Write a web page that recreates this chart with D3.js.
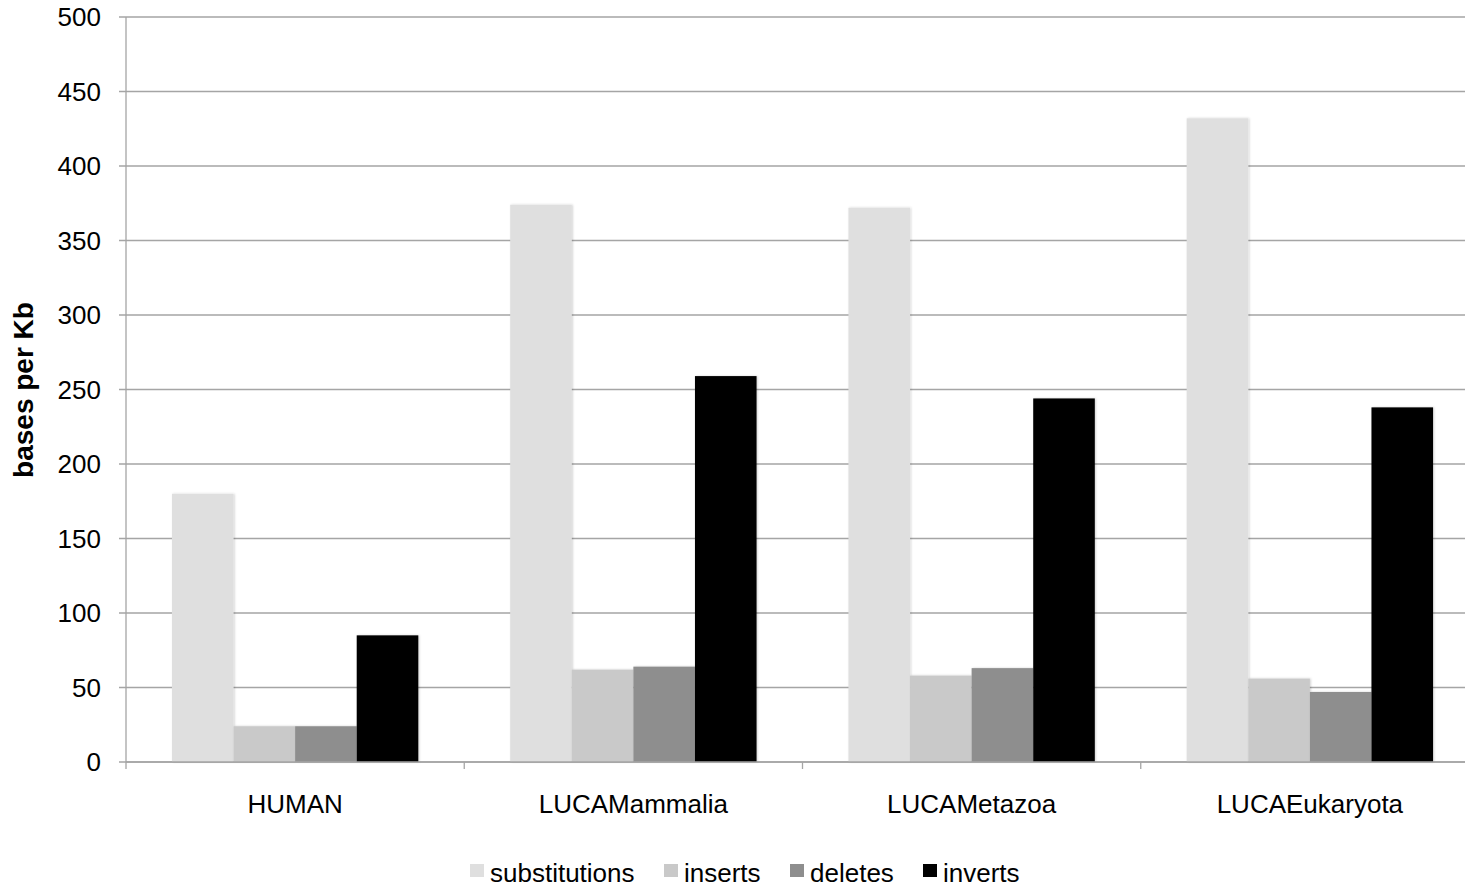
<!DOCTYPE html>
<html><head><meta charset="utf-8">
<script src="https://cdn.jsdelivr.net/npm/d3@7"></script>
<style>body{margin:0;background:#fff;}svg{display:block;font-family:"Liberation Sans",Arial,sans-serif;}</style>
</head><body><svg id="c" width="1465" height="887"></svg>
<script>
const categories = ["HUMAN","LUCAMammalia","LUCAMetazoa","LUCAEukaryota"];
const seriesNames = ["substitutions","inserts","deletes","inverts"];
const substitutions = [180,374,372,432];
const inserts = [24,62,58,56];
const deletes = [24,64,63,47];
const inverts = [85,259,244,238];
const yTicks = [0,50,100,150,200,250,300,350,400,450,500];
const colors = ["#dfdfdf","#c9c9c9","#8e8e8e","#000000"];
const seriesValues = [substitutions,inserts,deletes,inverts];

(function(){
const svg = d3.select("#c");
const pL = 126, pR = 1479, pT = 17, pB = 762;
const x = d3.scaleBand().domain(categories).range([pL,pR]).paddingInner(0).paddingOuter(0);
const xs = d3.scaleBand().domain(seriesNames).range([0,x.bandwidth()]).paddingInner(0).paddingOuter(0.746);
const y = d3.scaleLinear().domain([0,500]).range([pB,pT]);

const defs = svg.append("defs");
const f = defs.append("filter").attr("id","sh").attr("x","-10%").attr("y","-10%").attr("width","130%").attr("height","120%");
f.append("feDropShadow").attr("dx",1).attr("dy",0).attr("stdDeviation",1.2).attr("flood-color","#000").attr("flood-opacity",0.18);

svg.append("g").selectAll("line").data(yTicks).join("line")
  .attr("x1",pL-7).attr("x2",1465).attr("y1",d=>y(d)).attr("y2",d=>y(d))
  .attr("stroke","#a5a5a5").attr("stroke-width",1.3);

svg.append("g").selectAll("text").data(yTicks).join("text")
  .attr("x",101).attr("y",d=>y(d)).attr("dy","0.36em").attr("text-anchor","end")
  .attr("font-size",26).attr("fill","#000").text(d=>d);

const g = svg.append("g");
seriesNames.forEach((s,si)=>{
  g.append("g").selectAll("rect").data(categories).join("rect")
    .attr("x",(c)=>x(c)+xs(s)).attr("width",xs.bandwidth())
    .attr("y",(c,i)=>y(seriesValues[si][i])).attr("height",(c,i)=>y(0)-y(seriesValues[si][i]))
    .attr("fill",colors[si]).attr("filter","url(#sh)");
});

svg.append("line").attr("x1",pL).attr("x2",pL).attr("y1",pT).attr("y2",pB+7).attr("stroke","#a5a5a5").attr("stroke-width",1.3);
svg.append("line").attr("x1",pL).attr("x2",1465).attr("y1",pB).attr("y2",pB).attr("stroke","#a5a5a5").attr("stroke-width",1.3);
svg.append("g").selectAll("line").data(categories.slice(1)).join("line")
  .attr("x1",d=>x(d)).attr("x2",d=>x(d)).attr("y1",pB).attr("y2",pB+7)
  .attr("stroke","#a5a5a5").attr("stroke-width",1.3);

svg.append("g").selectAll("text").data(categories).join("text")
  .attr("x",d=>x(d)+x.bandwidth()/2).attr("y",813).attr("text-anchor","middle")
  .attr("font-size",26).attr("fill","#000").text(d=>d);

svg.append("text").attr("transform","translate(33,390) rotate(-90)").attr("text-anchor","middle")
  .attr("font-size",28).attr("font-weight","bold").text("bases per Kb");

const legX = [470,664,790,923];
const lg = svg.append("g");
seriesNames.forEach((s,i)=>{
  lg.append("rect").attr("x",legX[i]).attr("y",864).attr("width",14).attr("height",13).attr("fill",colors[i]);
  lg.append("text").attr("x",legX[i]+20).attr("y",882).attr("font-size",26).text(s);
});
})();
</script></body></html>
